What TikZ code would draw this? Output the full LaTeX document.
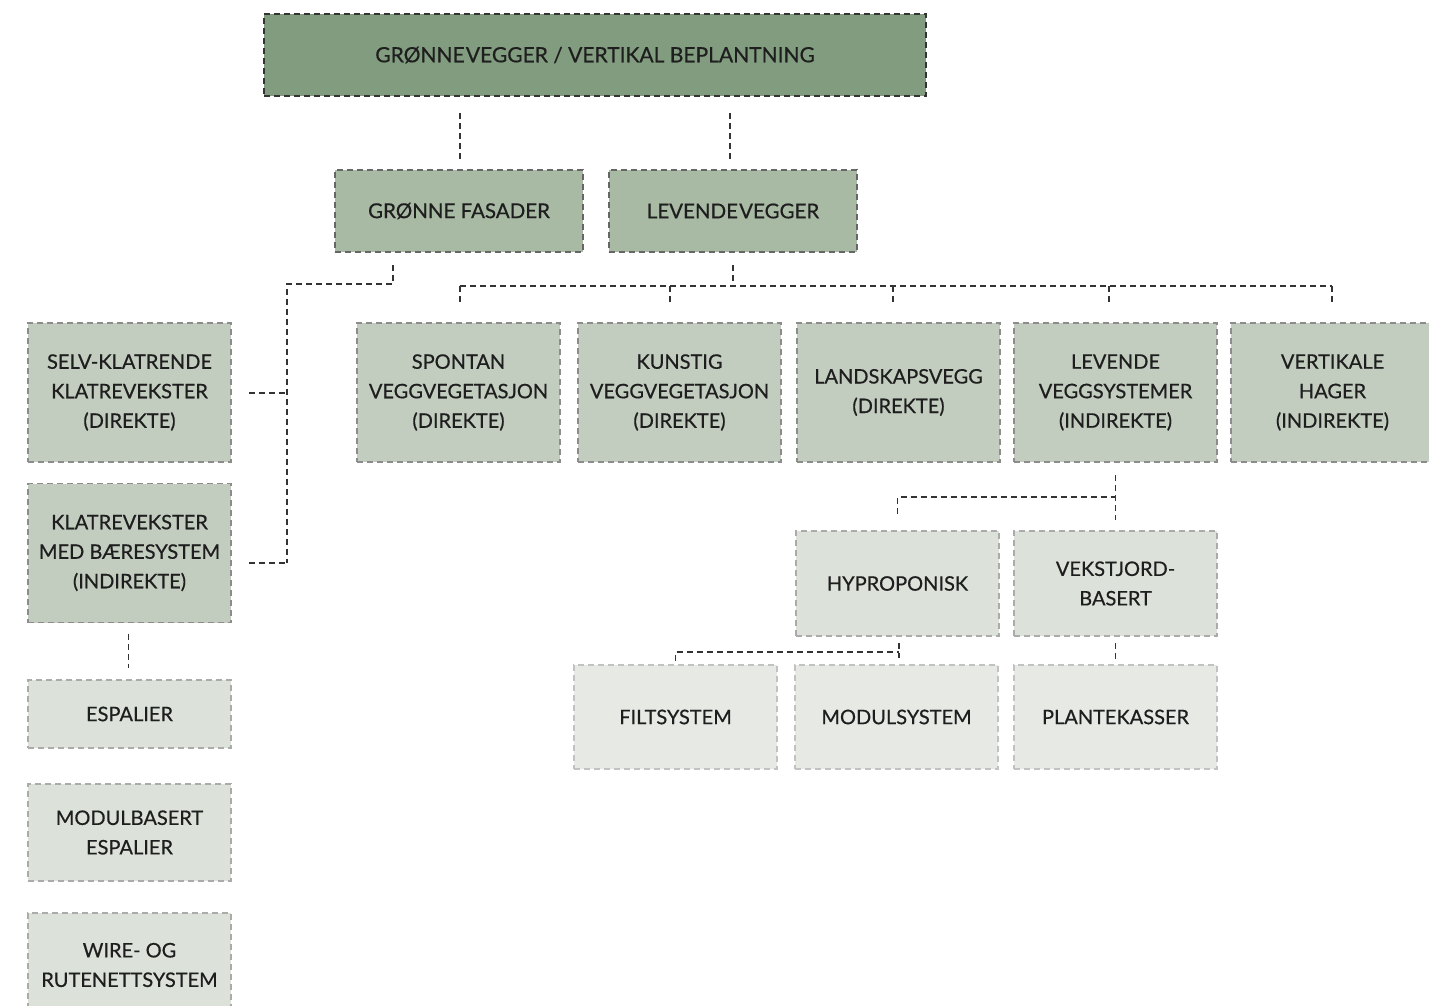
\documentclass[tikz,border=0pt]{standalone}
\usepackage{fontspec}
\setmainfont{Lato}[FakeBold=0.5]
\usetikzlibrary{calc}

% box fills and borders, from darkest level to lightest
\definecolor{fillA}{HTML}{819C7E}
\definecolor{fillB}{HTML}{A8B9A4}
\definecolor{fillC}{HTML}{C2CDBF}
\definecolor{fillD}{HTML}{DCE2DA}
\definecolor{fillE}{HTML}{E6E9E4}
\definecolor{lineA}{HTML}{333333}
\definecolor{lineB}{HTML}{666666}
\definecolor{lineC}{HTML}{8C8C8C}
\definecolor{lineD}{HTML}{ABABAB}
\definecolor{lineE}{HTML}{C2C2C2}
\definecolor{textc}{HTML}{1E1E1E}
\definecolor{connc}{HTML}{333333}

\tikzset{
  box/.style={rectangle, draw, line width=1.6pt, dash pattern=on 6pt off 4pt,
    align=center, text=textc, inner sep=2pt, outer sep=0pt,
    font=\fontsize{20pt}{29.5pt}\selectfont},
  lvA/.style={box, fill=fillA, draw=lineA, font=\fontsize{21pt}{29.5pt}\selectfont},
  lvB/.style={box, fill=fillB, draw=lineB, font=\fontsize{20.5pt}{29.5pt}\selectfont},
  lvC/.style={box, fill=fillC, draw=lineC},
  lvD/.style={box, fill=fillD, draw=lineD},
  lvE/.style={box, fill=fillE, draw=lineE},
  conn/.style={draw=connc, line width=1.8pt, dash pattern=on 6pt off 4pt},
}

\begin{document}
\begin{tikzpicture}[x=1pt, y=-1pt]
\useasboundingbox[fill=white] (0,0) rectangle (1429,1006);

% top level
\node[lvA, minimum width=662pt, minimum height=82pt] (top) at (595,55)
  {GRØNNE\hspace{-0.2em} VEGGER / VERTIKAL BEPLANTNING};

% second level
\node[lvB, minimum width=248pt, minimum height=82pt] (gf) at (459,211) {GRØNNE FASADER};
\node[lvB, minimum width=248pt, minimum height=82pt] (lv) at (733,211) {LEVENDE\hspace{-0.2em} VEGGER};

% third level
\tikzset{c3/.style={lvC, minimum width=203pt, minimum height=139pt}}
\node[c3] (selv) at (129.5,392.5) {SELV-KLATRENDE\\KLATREVEKSTER\\(DIREKTE)};
\node[c3] (klat) at (129.5,553) {KLATREVEKSTER\\MED BÆRESYSTEM\\(INDIREKTE)};
\node[c3] (spon) at (458.5,392.5) {SPONTAN\\VEGGVEGETASJON\\(DIREKTE)};
\node[c3] (kuns) at (679.5,392.5) {KUNSTIG\\VEGGVEGETASJON\\(DIREKTE)};
\node[c3] (land) at (898.5,392.5) {LANDSKAPSVEGG\\(DIREKTE)};
\node[c3] (lvs) at (1115.5,392.5) {LEVENDE\\VEGGSYSTEMER\\(INDIREKTE)};
\node[c3] (vert) at (1332.5,392.5) {VERTIKALE\\HAGER\\(INDIREKTE)};

% supporting structures under climbing plants
\node[lvD, minimum width=203pt, minimum height=68pt] (esp) at (129.5,714) {ESPALIER};
\node[lvD, minimum width=203pt, minimum height=97pt] (modb) at (129.5,832.5) {MODULBASERT\\ESPALIER};
\node[lvD, minimum width=203pt, minimum height=104pt] (wire) at (129.5,965) {WIRE- OG\\RUTENETTSYSTEM};

% living wall systems
\node[lvD, minimum width=203pt, minimum height=105pt] (hyp) at (897.5,583.5) {HYPROPONISK};
\node[lvD, minimum width=203pt, minimum height=105pt] (vek) at (1115.5,583.5) {VEKSTJORD-\\BASERT};
\node[lvE, minimum width=203pt, minimum height=104pt] (filt) at (675.5,717) {FILTSYSTEM};
\node[lvE, minimum width=203pt, minimum height=104pt] (mods) at (896.5,717) {MODULSYSTEM};
\node[lvE, minimum width=203pt, minimum height=104pt] (plan) at (1115.5,717) {PLANTEKASSER};

% top to second level
\draw[conn] ($(top.south -| gf.north)+(1,17)$) -- ($(gf.north)+(1,-10)$);
\draw[conn] ($(top.south -| lv.north)+(-3,17)$) -- ($(lv.north)+(-3,-10)$);

% green facades branch
\coordinate (gfa) at ($(gf.south)+(-66,13)$);
\coordinate (gfb) at ($(gf.south)+(-66,32)$);
\coordinate (gfc) at (287,284);
\coordinate (gfd) at (287,563);
\draw[conn] (gfa) -- (gfb) -- (gfb -| gfc) -- (gfd);
\draw[conn] ($(selv.east)+(18,0.5)$) -- ($(selv.east -| gfc)+(0,0.5)$);
\draw[conn] ($(gfd)+(-38,0)$) -- (gfd);
\draw[conn] ($(klat.south)+(-1,11)$) -- ($(esp.north)+(-1,-12)$);

% living walls branch
\coordinate (lva) at ($(lv.south)+(0,13)$);
\coordinate (lvb) at ($(lv.south)+(0,34)$);
\draw[conn] (lva) -- (lvb);
\draw[conn] ($(spon.north)+(1.5,-37)$) -- ($(vert.north)+(-0.5,-37)$);
\foreach \n/\dx in {spon/1.5, kuns/-9.5, land/-5.5, lvs/-6.5, vert/-0.5}
  \draw[conn] ($(\n.north)+(\dx,-37)$) -- ($(\n.north)+(\dx,-20)$);

% living wall systems branch
\coordinate (lsa) at ($(lvs.south)+(0,13)$);
\coordinate (lsb) at ($(lvs.south)+(0,35)$);
\draw[conn] (lsa) -- ($(vek.north)+(0,-11)$);
\draw[conn] ($(hyp.north)+(0,-17)$) -- (hyp.north |- lsb) -- (lsb);

% hydroponic branch
\coordinate (hya) at ($(hyp.south)+(1.5,7)$);
\coordinate (hyb) at ($(hyp.south)+(1.5,16)$);
\draw[conn] (hya) -- ($(hyp.south)+(1.5,22)$);
\draw[conn] ($(filt.north)+(0,-4)$) -- (filt.north |- hyb) -- (hyb);
\draw[conn] ($(vek.south)+(0,7)$) -- ($(plan.north)+(0,-6)$);
\end{tikzpicture}
\end{document}
